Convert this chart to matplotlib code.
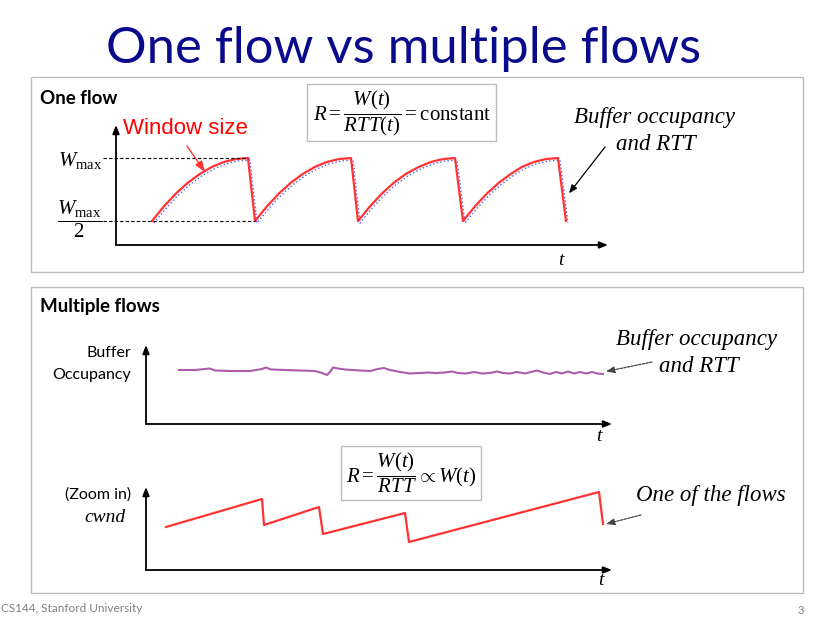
import matplotlib
matplotlib.use("Agg")
import matplotlib.pyplot as plt
from matplotlib.patches import Rectangle
from matplotlib import transforms

plt.rcParams['mathtext.fontset'] = 'custom'
plt.rcParams['mathtext.rm'] = 'Liberation Serif'
plt.rcParams['mathtext.it'] = 'Liberation Serif:italic'
plt.rcParams['font.family'] = ['Lato', 'DejaVu Sans']

# ---- data ----
# one flow: window size sawtooth (t in arbitrary units, W in units of Wmax)
window_t = [3.6, 4.8, 6.0, 7.2, 8.4, 9.6, 10.8, 12.0, 13.2,
            13.9, 15.1, 16.3, 17.5, 18.7, 19.9, 21.1, 22.3, 23.5,
            24.2, 25.4, 26.6, 27.8, 29.0, 30.3, 31.5, 32.7, 33.9,
            34.7, 35.9, 37.1, 38.3, 39.5, 40.6, 41.8, 43.0, 44.2,
            45.0]
window_w = [0.5, 0.617, 0.719, 0.805, 0.875, 0.930, 0.969, 0.992, 1.0,
            0.5, 0.617, 0.719, 0.805, 0.875, 0.930, 0.969, 0.992, 1.0,
            0.5, 0.617, 0.719, 0.805, 0.875, 0.930, 0.969, 0.992, 1.0,
            0.5, 0.617, 0.719, 0.805, 0.875, 0.930, 0.969, 0.992, 1.0,
            0.5]

# multiple flows: buffer occupancy stays nearly flat
buffer_t = [3.3, 4.9, 5.9, 6.4, 6.9, 8.4, 10.4, 11.6, 12.0, 12.5, 13.9, 15.4,
            16.9, 17.6, 18.1, 18.4, 18.7, 19.2, 19.9, 21.4, 22.4, 23.2, 23.8,
            24.4, 25.4, 26.4, 27.4, 28.2, 28.9, 29.9, 30.6, 31.2, 32.0, 32.8,
            33.6, 34.4, 35.1, 35.7, 36.4, 37.1, 37.9, 38.5, 39.1, 39.7, 40.4,
            41.0, 41.6, 42.2, 42.8, 43.4, 44.0, 44.6, 45.1, 45.7]
buffer_q = [5.4, 5.4, 5.5, 5.55, 5.35, 5.3, 5.3, 5.5, 5.65, 5.45, 5.4, 5.35,
            5.3, 5.1, 4.9, 5.2, 5.65, 5.55, 5.45, 5.35, 5.3, 5.5, 5.6,
            5.4, 5.2, 5.05, 5.1, 5.15, 5.1, 5.15, 5.25, 5.1, 5.05, 5.2,
            5.05, 5.1, 5.25, 5.1, 5.05, 5.2, 5.05, 5.2, 5.35, 5.15, 5.0,
            5.2, 5.05, 5.25, 5.05, 5.2, 5.05, 5.2, 5.05, 5.0]

# one of the flows: cwnd (zoomed in)
cwnd_t = [2.0, 11.6, 11.8, 17.3, 17.7, 25.9, 26.3, 45.3, 45.7]
cwnd_w = [4.3, 7.1, 4.5, 6.3, 3.6, 5.7, 2.8, 7.8, 4.6]

W, H = 832, 617
fig = plt.figure(figsize=(W / 100, H / 100), dpi=100)


def P(px, py):
    # slide pixel -> figure fraction
    return px / W, 1 - py / H


def box(ax_l, ax_t, ax_r, ax_b):
    return [ax_l / W, 1 - ax_b / H, (ax_r - ax_l) / W, (ax_b - ax_t) / H]


def add_rect(l, t, r, b, ec='#BDBDBD', lw=1.0):
    fig.patches.append(Rectangle(P(l, b), (r - l) / W, (b - t) / H, transform=fig.transFigure,
                                 fill=False, ec=ec, lw=lw))


def arrow_axes(ax):
    for s in ax.spines.values():
        s.set_visible(False)
    ax.set_xticks([])
    ax.set_yticks([])
    ax.patch.set_alpha(0)
    kw = dict(arrowstyle='-|>,head_length=0.5,head_width=0.2', color='black', lw=1.3,
              shrinkA=0, shrinkB=0)
    ax.annotate('', xy=(1, 0), xytext=(0, 0), xycoords='axes fraction', arrowprops=kw)
    ax.annotate('', xy=(0, 1), xytext=(0, 0), xycoords='axes fraction', arrowprops=kw)


serif_it = dict(family='Liberation Serif', style='italic')

# title
fig.text(*P(404, 49), 'One flow vs multiple flows', ha='center', va='center',
         fontsize=36.5, color='#0A0A8C')

# panel frames
add_rect(31, 77, 803, 272)
add_rect(31, 287, 803, 593)

# ---------- one flow ----------
fig.text(*P(40, 99), 'One flow', ha='left', va='center', fontsize=13.5, fontweight='bold')
ax1 = fig.add_axes(box(116, 125, 608, 245))
ax1.set_xlim(0, 49.2)
ax1.set_ylim(0.31, 1.262)
arrow_axes(ax1)
shift = transforms.offset_copy(ax1.transData, fig=fig, x=2, y=-2, units='dots')
ax1.plot(window_t, window_w, color='#5A5AF0', lw=1.0, ls=':', transform=shift, clip_on=False)
ax1.plot(window_t, window_w, color='#FF3333', lw=1.6, clip_on=False)
ax1.plot([-1.3, window_t[8]], [1.0, 1.0], color='black', lw=0.8, ls=(0, (3, 2)), clip_on=False)
ax1.plot([-1.3, window_t[9]], [0.5, 0.5], color='black', lw=0.8, ls=(0, (3, 2)), clip_on=False)

fig.text(*P(80, 160), r'$W_{\mathrm{max}}$', ha='center', va='center', fontsize=15)
fig.text(*P(80, 219), r'$\dfrac{W_{\mathrm{max}}}{2}$', ha='center', va='center', fontsize=15)

ax1.annotate('Window size', xy=(8.9, 0.89), xytext=P(123, 128), textcoords='figure fraction',
             ha='left', va='center', fontsize=16, color='#FF0000', family='Liberation Sans',
             arrowprops=dict(arrowstyle='-|>,head_length=0.4,head_width=0.15', color='#FF3333',
                             lw=1.0, shrinkA=4, shrinkB=0, relpos=(0.47, 0)))

add_rect(307, 84, 496, 141)
fig.text(*P(402, 113), r'$R = \dfrac{W(t)}{RTT(t)} = \mathrm{constant}$', ha='center',
         va='center', fontsize=15)

ax1.annotate('', xy=(45.3, 0.72), xytext=P(605, 147), textcoords='figure fraction',
             arrowprops=dict(arrowstyle='-|>,head_length=0.5,head_width=0.2', color='black',
                             lw=0.9, shrinkA=0, shrinkB=0))
fig.text(*P(655, 118), 'Buffer occupancy', ha='center', va='center', fontsize=16.5, **serif_it)
fig.text(*P(656, 144), 'and RTT', ha='center', va='center', fontsize=16.5, **serif_it)
fig.text(*P(561, 252), 't', ha='center', va='top', fontsize=14, **serif_it)

# ---------- multiple flows ----------
fig.text(*P(40, 306), 'Multiple flows', ha='left', va='center', fontsize=13.5, fontweight='bold')

ax2 = fig.add_axes(box(146, 345, 612, 424))
ax2.set_xlim(0, 46.6)
ax2.set_ylim(0, 7.9)
arrow_axes(ax2)
ax2.plot(buffer_t, buffer_q, color='#A24BA2', lw=1.5, alpha=0.9)
fig.text(*P(131, 353), 'Buffer', ha='right', va='center', fontsize=11.5)
fig.text(*P(131, 375), 'Occupancy', ha='right', va='center', fontsize=11.5)
ax2.annotate('', xy=(46.0, 5.25), xytext=P(652, 362), textcoords='figure fraction',
             arrowprops=dict(arrowstyle='-|>,head_length=0.5,head_width=0.2', color='#444444',
                             lw=0.9, shrinkA=0, shrinkB=0, ls=(0, (2, 1))))
fig.text(*P(697, 340), 'Buffer occupancy', ha='center', va='center', fontsize=16.5, **serif_it)
fig.text(*P(699, 366), 'and RTT', ha='center', va='center', fontsize=16.5, **serif_it)
fig.text(*P(599, 428), 't', ha='center', va='top', fontsize=14, **serif_it)

ax3 = fig.add_axes(box(146, 487, 612, 570))
ax3.set_xlim(0, 46.6)
ax3.set_ylim(0, 8.3)
arrow_axes(ax3)
ax3.plot(cwnd_t, cwnd_w, color='#FF3333', lw=1.6)
fig.text(*P(131, 495), '(Zoom in)', ha='right', va='center', fontsize=11.5)
fig.text(*P(126, 518), 'cwnd', ha='right', va='center', fontsize=14, **serif_it)

add_rect(341, 446, 481, 500)
fig.text(*P(411, 473), r'$R = \dfrac{W(t)}{RTT} \propto W(t)$', ha='center', va='center',
         fontsize=15)

ax3.annotate('', xy=(46.0, 4.6), xytext=P(641, 515), textcoords='figure fraction',
             arrowprops=dict(arrowstyle='-|>,head_length=0.5,head_width=0.2', color='#444444',
                             lw=0.9, shrinkA=0, shrinkB=0, ls=(0, (2, 1))))
fig.text(*P(711, 495), 'One of the flows', ha='center', va='center', fontsize=16.5, **serif_it)
fig.text(*P(601, 572), 't', ha='center', va='top', fontsize=14, **serif_it)

# footer
fig.text(*P(1, 609), 'CS144, Stanford University', ha='left', va='center', fontsize=8.5,
         color='#7F7F7F')
fig.text(*P(801, 610), '3', ha='center', va='center', fontsize=8, color='#7F7F7F')

fig.savefig('out.png', dpi=100, facecolor='white')
